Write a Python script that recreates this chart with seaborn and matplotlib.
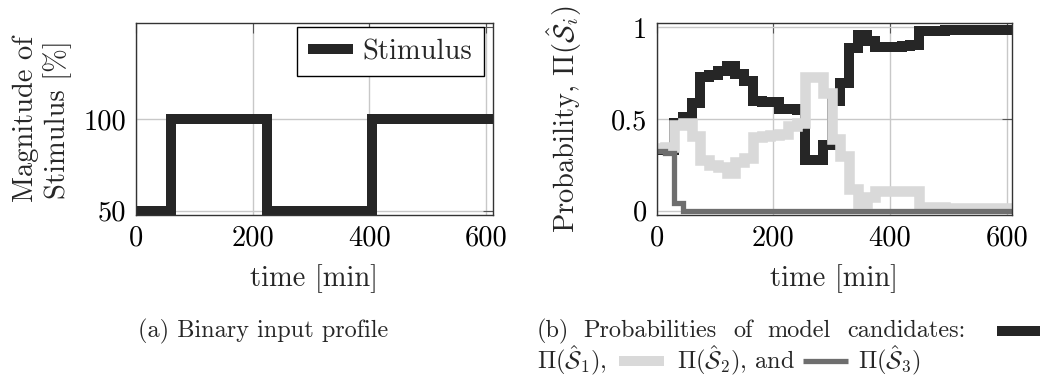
import matplotlib
matplotlib.use("Agg")
import matplotlib.pyplot as plt
import seaborn as sns
from matplotlib.lines import Line2D

# ---------------- data ----------------
stim_time = [0, 60, 225, 405, 615]
stim_value = [50, 100, 50, 100, 100]

prob_time = [0, 15, 30, 45, 60, 75, 90, 105, 120, 135, 150, 165, 180, 195,
             210, 225, 240, 255, 270, 285, 300, 315, 330, 345, 360, 375, 390,
             405, 420, 435, 450, 465, 480, 495, 510, 525, 540, 555, 570, 585,
             600, 615]
prob_s1 = [0.33, 0.33, 0.48, 0.51, 0.585, 0.73, 0.74, 0.76, 0.79, 0.745, 0.705,
           0.60, 0.595, 0.595, 0.555, 0.555, 0.55, 0.275, 0.275, 0.36, 0.60,
           0.695, 0.89, 0.96, 0.925, 0.895, 0.895, 0.895, 0.90, 0.905, 0.98,
           0.98, 0.983, 0.985, 0.985, 0.985, 0.985, 0.985, 0.985, 0.985,
           0.985, 0.985]
prob_s2 = [0.34, 0.345, 0.47, 0.48, 0.41, 0.275, 0.25, 0.24, 0.205, 0.265,
           0.285, 0.40, 0.41, 0.415, 0.42, 0.46, 0.48, 0.73, 0.73, 0.64, 0.39,
           0.30, 0.12, 0.04, 0.075, 0.11, 0.11, 0.11, 0.11, 0.105, 0.02, 0.02,
           0.018, 0.017, 0.016, 0.015, 0.015, 0.015, 0.015, 0.015, 0.015,
           0.015]
prob_s3 = [0.325, 0.315, 0.04, 0.0, 0.0, 0.0, 0.0, 0.0, 0.0, 0.0, 0.0, 0.0,
           0.0, 0.0, 0.0, 0.0, 0.0, 0.0, 0.0, 0.0, 0.0, 0.0, 0.0, 0.0, 0.0,
           0.0, 0.0, 0.0, 0.0, 0.0, 0.0, 0.0, 0.0, 0.0, 0.0, 0.0, 0.0, 0.0,
           0.0, 0.0, 0.0, 0.0]

x_ticks = [0, 200, 400, 600]
stim_ticks = [50, 100]
stim_tick_labels = ["50", "100"]
prob_ticks = [0, 0.5, 1]
prob_tick_labels = ["0", "0.5", "1"]

C1, C2, C3 = "#262626", "#d9d9d9", "#6e6e6e"

# ---------------- style ----------------
sns.set_theme(style="white")
plt.rcParams.update({
    "font.family": "cmr10",
    "mathtext.fontset": "cm",
    "axes.formatter.use_mathtext": True,
    "font.size": 20.5,
})

W, H = 1046, 378
fig = plt.figure(figsize=(W / 100, H / 100), dpi=100)


def rect(x0, x1, y0, y1):
    return [x0 / W, 1 - y1 / H, (x1 - x0) / W, (y1 - y0) / H]


axL = fig.add_axes(rect(136, 492.7, 23.3, 215))
axR = fig.add_axes(rect(656.7, 1011.7, 23.3, 215))

for ax in (axL, axR):
    ax.set_facecolor("white")
    ax.grid(True, which="major", color="#c8c8c8", linewidth=1.0)
    ax.set_axisbelow(True)
    for s in ax.spines.values():
        s.set_visible(True)
        s.set_color("#333333")
        s.set_linewidth(1.0)
    ax.tick_params(which="both", direction="in", length=7, width=0.8,
                   color="#555555", top=True, right=True, labelsize=20.5,
                   pad=7, labelcolor="black")

line_kw = dict(drawstyle="steps-post", estimator=None, sort=False,
               legend=False, solid_joinstyle="miter", solid_capstyle="butt")

# ---------------- left: stimulus ----------------
sns.lineplot(x=stim_time, y=stim_value, ax=axL, color=C1, linewidth=7.2,
             **line_kw)
axL.set_xlim(0, 611.5)
axL.set_ylim(47.65, 152.2)
axL.set_xticks(x_ticks)
axL.set_xticklabels([str(v) for v in x_ticks])
axL.set_yticks(stim_ticks)
axL.set_yticklabels(stim_tick_labels)
axL.set_yticks([150], minor=True)
axL.set_xlabel("time [min]", fontsize=20.5)
axL.xaxis.set_label_coords(0.5, -0.2556)
axL.set_ylabel("Magnitude of\nStimulus [%]", fontsize=20.5, linespacing=1.2)
axL.yaxis.set_label_coords(-0.179, 0.5)
leg = axL.legend(handles=[Line2D([], [], color=C1, lw=7.2, solid_capstyle="butt")],
                 labels=["Stimulus"], loc="upper right",
                 bbox_to_anchor=(0.9756, 0.979), borderaxespad=0,
                 frameon=True, fancybox=False, edgecolor="black",
                 framealpha=1, handlelength=1.58, handletextpad=0.35,
                 borderpad=0.4, fontsize=20.5)
leg.get_frame().set_linewidth(1.0)

# ---------------- right: probabilities ----------------
sns.lineplot(x=prob_time, y=prob_s1, ax=axR, color=C1, linewidth=7.2, **line_kw)
sns.lineplot(x=prob_time, y=prob_s2, ax=axR, color=C2, linewidth=7.6, **line_kw)
sns.lineplot(x=prob_time, y=prob_s3, ax=axR, color=C3, linewidth=3.8, **line_kw)
axR.set_xlim(0, 608.6)
axR.set_ylim(-0.0235, 1.0225)
axR.set_xticks(x_ticks)
axR.set_xticklabels([str(v) for v in x_ticks])
axR.set_yticks(prob_ticks)
axR.set_yticklabels(prob_tick_labels)
axR.set_xlabel("time [min]", fontsize=20.5)
axR.xaxis.set_label_coords(0.5, -0.2556)
axR.set_ylabel(r"Probability, $\Pi(\hat{\mathcal{S}}_i)$", fontsize=20.5)
axR.yaxis.set_label_coords(-0.2048, 0.5)

# ---------------- captions ----------------
CAP = 17.5


def ftext(x, y, s, **kw):
    fig.text(x / W, 1 - y / H, s, fontsize=CAP, va="center", ha="left", **kw)


def fline(x0, x1, y, color, lw):
    fig.add_artist(Line2D([x0 / W, x1 / W], [1 - y / H, 1 - y / H],
                          transform=fig.transFigure, color=color, lw=lw,
                          solid_capstyle="butt"))


ftext(138, 331, "(a) Binary input profile")

for x, word in [(537, "(b)"), (583, "Probabilities"), (733, "of"),
                (767, "model"), (847, "candidates:")]:
    ftext(x, 331, word)
fline(997, 1040, 331, C1, 7.2)

ftext(537, 360, r"$\Pi(\hat{\mathcal{S}}_1)$,")
fline(619, 664, 361, C2, 7.2)
ftext(677, 360, r"$\Pi(\hat{\mathcal{S}}_2)$, and")
fline(803, 848, 361, C3, 3.8)
ftext(858, 360, r"$\Pi(\hat{\mathcal{S}}_3)$")

fig.savefig("out.png", dpi=100)
